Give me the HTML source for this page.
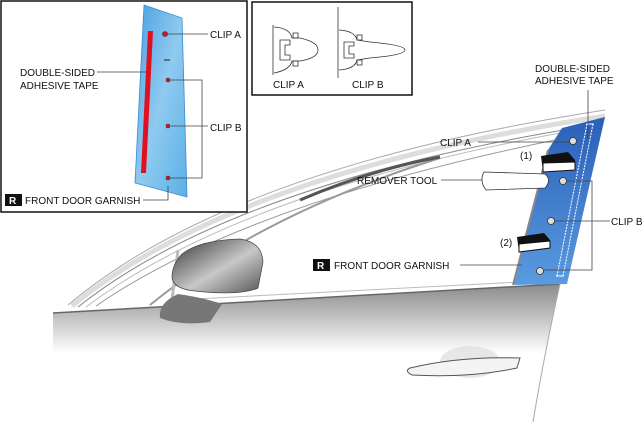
<!DOCTYPE html>
<html><head><meta charset="utf-8"><style>
html,body{margin:0;padding:0;background:#fff;}
svg{display:block;font-family:"Liberation Sans",sans-serif;}
text{font-size:10px;fill:#111;}
</style></head><body>
<svg width="643" height="422" viewBox="0 0 643 422" xmlns="http://www.w3.org/2000/svg">
<defs>
<linearGradient id="blue" x1="0" y1="0" x2="0" y2="1"><stop offset="0" stop-color="#2a5fb8"/><stop offset="1" stop-color="#5a9be0"/></linearGradient>
<linearGradient id="lblue" x1="0" y1="0" x2="1" y2="1"><stop offset="0" stop-color="#4a9ee0"/><stop offset=".5" stop-color="#8fcaf0"/><stop offset="1" stop-color="#5ab0e6"/></linearGradient>
<linearGradient id="door" x1="0" y1="0" x2="0" y2="1"><stop offset="0" stop-color="#8a8a8a"/><stop offset=".3" stop-color="#d0d0d0"/><stop offset=".5" stop-color="#fff"/><stop offset="1" stop-color="#fff"/></linearGradient>
<linearGradient id="mir" x1="0" y1="0" x2="1" y2="1"><stop offset="0" stop-color="#333"/><stop offset=".55" stop-color="#c8c8c8"/><stop offset="1" stop-color="#555"/></linearGradient>
</defs>
<!-- door body -->
<path d="M53,313 L560,284 Q545,350 533,422 L53,422 Z" fill="url(#door)"/>
<path d="M53,313 L560,284" stroke="#666" stroke-width="1.5" fill="none"/>
<path d="M560,284 Q545,350 533,422" stroke="#aaa" stroke-width="1" fill="none"/>
<!-- window frame -->
<path d="M68,305 Q230,168 605,110" stroke="#aaa" stroke-width="1" fill="none"/>
<path d="M72,306 Q232,174 605,116" stroke="#ddd" stroke-width="5" fill="none"/>
<path d="M78,307 Q236,181 600,124" stroke="#888" stroke-width="1" fill="none"/>
<path d="M86,307 Q240,192 560,133" stroke="#bbb" stroke-width="1" fill="none"/>
<path d="M96,306 Q245,203 560,139" stroke="#999" stroke-width="1" fill="none"/>
<path d="M150,305 Q260,215 440,158" stroke="#999" stroke-width="2" fill="none"/>
<path d="M300,200 Q370,170 440,157" stroke="#555" stroke-width="3" fill="none"/>
<path d="M175,300 L520,282" stroke="#bbb" stroke-width="1"/>
<path d="M178,250 L172,300" stroke="#bbb" stroke-width="3"/>
<!-- blue pillar -->
<path d="M562,128 L605,117 L567,284 L513,285 L548,150 Z" fill="url(#blue)"/>
<path d="M548,150 L513,285" stroke="#888" stroke-width="2"/>
<!-- tape -->
<path d="M587,124 L557,276" stroke="#fff" stroke-width="1" stroke-dasharray="2,1"/>
<path d="M593,124 L563,276" stroke="#fff" stroke-width="1" stroke-dasharray="2,1"/>
<path d="M586,124 L594,124 M556,276 L564,276" stroke="#fff" stroke-width="1"/>
<!-- clips -->
<g fill="#ddd" stroke="#333" stroke-width=".8">
<circle cx="573" cy="141" r="3.5"/><circle cx="563" cy="181" r="3.5"/><circle cx="551" cy="221" r="3.5"/><circle cx="540" cy="271" r="3.5"/></g>
<!-- tools -->
<path d="M541,156 L568,152 L575,160 L575,170 L543,172 Z" fill="#111"/>
<path d="M543,163 L575,162 L575,170 L543,172 Z" fill="#fff" stroke="#111"/>
<path d="M517,237 L544,233 L550,240 L550,248 L519,252 Z" fill="#111"/>
<path d="M519,244 L550,241 L550,248 L519,252 Z" fill="#fff" stroke="#111"/>
<path d="M484,172 L545,174 Q552,180 545,188 L486,190 Q479,181 484,172 Z" fill="#fff" stroke="#333" stroke-width=".8"/>
<!-- mirror -->
<path d="M182,254 Q200,240 240,239 Q262,242 263,262 L258,288 Q240,296 195,291 Q174,289 172,278 Q172,264 182,254 Z" fill="url(#mir)" stroke="#444" stroke-width=".7"/>
<path d="M178,294 Q205,298 222,304 L210,322 Q180,326 160,318 Q158,303 178,294 Z" fill="#777"/>
<!-- handle -->
<ellipse cx="470" cy="362" rx="30" ry="16" fill="#ddd" opacity=".7"/>
<path d="M410,368 Q460,356 520,358 L517,368 Q470,378 412,375 Q404,371 410,368 Z" fill="#f4f4f4" stroke="#555" stroke-width="1"/>
<!-- leaders main -->
<g stroke="#444" stroke-width=".8" fill="none">
<path d="M588,90 L588,140"/>
<path d="M478,142 L569,142"/>
<path d="M441,180 L482,180"/>
<path d="M567,181 L592,181 L592,270 L544,270"/>
<path d="M555,221 L610,221"/>
<path d="M460,265 L522,265"/>
</g>
<text x="535" y="72">DOUBLE-SIDED</text><text x="535" y="84">ADHESIVE TAPE</text>
<text x="440" y="146">CLIP A</text>
<text x="520" y="159">(1)</text>
<text x="357" y="184">REMOVER TOOL</text>
<text x="611" y="225">CLIP B</text>
<text x="500" y="246">(2)</text>
<rect x="313" y="259" width="17" height="12" fill="#111"/><text x="317" y="269" style="fill:#fff;font-weight:bold">R</text>
<text x="334" y="269">FRONT DOOR GARNISH</text>
<!-- left box -->
<rect x="1" y="1" width="246" height="211" fill="#fff" stroke="#111" stroke-width="1.5"/>
<path d="M144,5 L182,18 L187,197 L135,183 Z" fill="url(#lblue)" stroke="#3a8ad0" stroke-width=".8"/>
<path d="M148,31 L153,31 L146,173 L141,173 Z" fill="#e01020"/>
<g fill="#e01020" stroke="#333" stroke-width=".6"><circle cx="165" cy="34" r="2.5"/><circle cx="168" cy="80" r="2"/><circle cx="168" cy="126" r="2"/><circle cx="168" cy="178" r="2"/></g>
<path d="M164,60 L170,60" stroke="#222"/>
<g stroke="#444" stroke-width=".8" fill="none">
<path d="M167,34 L208,34"/><path d="M170,80 L202,80 L202,178 L170,178"/><path d="M171,126 L208,126"/>
<path d="M97,72 L148,72"/><path d="M143,200 L168,200 L168,186"/>
</g>
<text x="210" y="38">CLIP A</text><text x="210" y="131">CLIP B</text>
<text x="20" y="76">DOUBLE-SIDED</text><text x="20" y="89">ADHESIVE TAPE</text>
<rect x="5" y="194" width="17" height="12" fill="#111"/><text x="9" y="204" style="fill:#fff;font-weight:bold">R</text>
<text x="25" y="204">FRONT DOOR GARNISH</text>
<!-- middle box -->
<rect x="252" y="2" width="160" height="93" fill="#fff" stroke="#111" stroke-width="1.5"/>
<g stroke="#333" stroke-width=".8" fill="none">
<path d="M273,25 L273,75"/>
<path d="M274,27 Q290,28 292,38 L300,38 Q318,42 318,50 Q318,58 300,61 L292,61 Q290,70 274,73"/>
<path d="M280,40 L290,40 L290,45 L285,45 L285,55 L290,55 L290,60 L280,60 Z"/>
<rect x="293" y="33" width="5" height="5"/><rect x="293" y="61" width="5" height="5"/>
<path d="M338,7 L338,78"/>
<path d="M339,30 Q355,31 357,40 L370,42 Q405,45 405,50 Q405,55 370,58 L357,60 Q355,69 339,70"/>
<path d="M344,42 L354,42 L354,46 L349,46 L349,54 L354,54 L354,58 L344,58 Z"/>
<rect x="357" y="35" width="5" height="5"/><rect x="357" y="60" width="5" height="5"/>
</g>
<text x="273" y="88">CLIP A</text><text x="352" y="88">CLIP B</text>
</svg>
</body></html>
